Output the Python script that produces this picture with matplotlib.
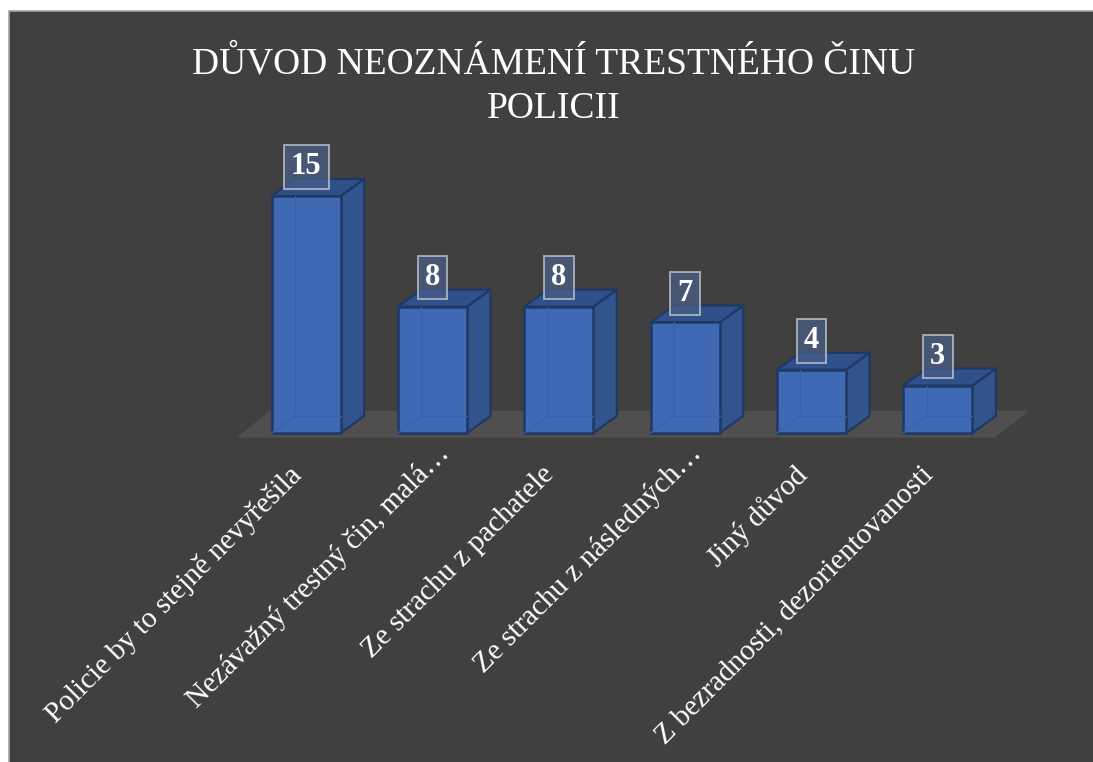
import matplotlib
matplotlib.use("Agg")
import matplotlib.pyplot as plt
from matplotlib.patches import Polygon, Rectangle

categories = ["Policie by to stejně nevyřešila", "Nezávažný trestný čin, malá…",
              "Ze strachu z pachatele", "Ze strachu z následných…",
              "Jiný důvod", "Z bezradnosti, dezorientovanosti"]
values = [15, 8, 8, 7, 4, 3]
title = "DŮVOD NEOZNÁMENÍ TRESTNÉHO ČINU\nPOLICII"

W, H = 1093, 762
BG = "#404040"
FRONT, SIDE, TOP, EDGE = "#3f6ab3", "#32548c", "#2f5089", "#1f3864"
plt.rcParams["font.family"] = ["Liberation Serif", "DejaVu Serif"]

fig = plt.figure(figsize=(W / 100, H / 100), dpi=100, facecolor="white")
fig.add_artist(Rectangle((8.5 / W, -0.01), (W + 5) / W, (H - 11) / H + 0.01, transform=fig.transFigure,
                         facecolor=BG, edgecolor="#a6a6a6", linewidth=1.2, zorder=-1))

left, right, base, top_px = 243, 1001, 433, 196
ax = fig.add_axes([left / W, (H - base) / H, (right - left) / W, (base - top_px) / H])
ax.set_xlim(-0.5, 5.5)
ax.set_ylim(0, 15)
ax.patch.set_visible(False)
for s in ax.spines.values():
    s.set_visible(False)
ax.set_yticks([])

bar_w = 69 / 126.3
dx, dy = 23.5 / 126.3, 17 / 15.8

# floor
ax.add_patch(Polygon([(-0.55, -0.3), (5.45, -0.3), (5.72, 1.41), (-0.29, 1.41)],
                     closed=True, facecolor="#504e4e", edgecolor="none", clip_on=False, zorder=1))

bars = ax.bar(range(len(values)), values, width=bar_w, color=FRONT, edgecolor=EDGE,
              linewidth=1.8, zorder=4, clip_on=False)
for bar, v in zip(bars, values):
    x0, x1 = bar.get_x(), bar.get_x() + bar.get_width()
    ax.add_patch(Polygon([(x1, 0), (x1 + dx, dy), (x1 + dx, v + dy), (x1, v)], closed=True,
                         facecolor=SIDE, edgecolor=EDGE, linewidth=1.6, zorder=3, clip_on=False))
    ax.add_patch(Polygon([(x0, v), (x0 + dx, v + dy), (x1 + dx, v + dy), (x1, v)], closed=True,
                         facecolor=TOP, edgecolor=EDGE, linewidth=1.6, zorder=3, clip_on=False))
    # back edges seen through the translucent front
    ax.plot([x0 + dx, x0 + dx], [dy, v], color="#3a62a8", lw=1, zorder=5, clip_on=False)
    ax.plot([x0 + dx, x1], [dy, dy], color="#3a62a8", lw=1, zorder=5, clip_on=False)
    ax.plot([x0, x0 + dx], [0, dy], color="#3a62a8", lw=1, zorder=5, clip_on=False)
    ax.annotate(str(v), (bar.get_x() + bar.get_width() / 2, v), xytext=(0, 14.5), textcoords="offset pixels",
                ha="center", va="bottom", color="white", fontsize=22, fontweight="bold", zorder=7,
                annotation_clip=False,
                bbox=dict(boxstyle="square,pad=0.24", facecolor="#4a5f88", alpha=0.72,
                          edgecolor="#c8ccd2", linewidth=1.4))

ax.set_xticks(range(len(categories)))
ax.set_xticklabels([])
ax.tick_params(axis="x", length=0)
for i, cat in enumerate(categories):
    # truncated labels sit a little further along their slant
    ox, oy = (3, -6.5) if cat.endswith("…") else (-18, -28.5)
    ax.annotate(cat, (i, 0), xytext=(ox, oy), textcoords="offset pixels", rotation=45,
                ha="right", va="top", rotation_mode="anchor", color="white", fontsize=21,
                annotation_clip=False)

fig.text(554 / W, 1 - 47 / H, title, ha="center", va="top", color="white", fontsize=27,
         linespacing=1.38)

fig.savefig("out.png", dpi=100, facecolor=fig.get_facecolor())
